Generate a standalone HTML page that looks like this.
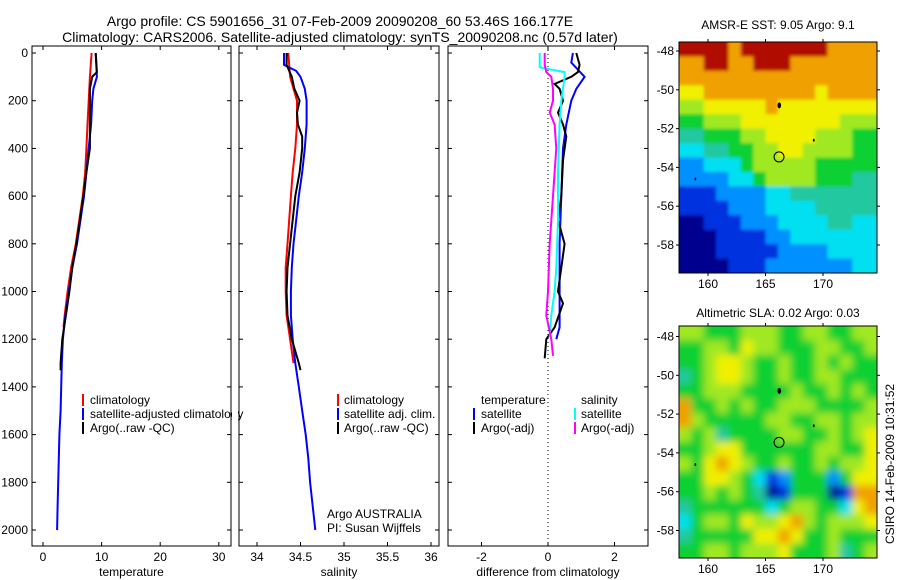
<!DOCTYPE html>
<html><head><meta charset="utf-8">
<style>
body{margin:0;background:#fff;}
svg{display:block;font-family:"Liberation Sans",sans-serif;}
text{fill:#000;}
</style></head>
<body>
<svg id="fig" width="900" height="580" viewBox="0 0 900 580" xmlns="http://www.w3.org/2000/svg">
<defs>
<filter id="blurS" x="-5%" y="-5%" width="110%" height="110%"><feGaussianBlur stdDeviation="1.5"/></filter>
<filter id="blurL" x="-5%" y="-5%" width="110%" height="110%"><feGaussianBlur stdDeviation="4"/></filter>
<clipPath id="clipS"><rect x="679" y="42" width="198" height="231"/></clipPath>
<clipPath id="clipL"><rect x="679" y="326" width="198" height="232"/></clipPath>
</defs>
<rect width="900" height="580" fill="#fff"/>
<text x="340" y="26" font-size="14" text-anchor="middle">Argo profile: CS 5901656_31 07-Feb-2009 20090208_60 53.46S 166.177E</text>
<text x="340" y="42" font-size="14" text-anchor="middle">Climatology: CARS2006. Satellite-adjusted climatology: synTS_20090208.nc (0.57d later)</text>
<g id="plots"></g>
<text x="778" y="29" font-size="12" text-anchor="middle">AMSR-E SST: 9.05 Argo: 9.1</text>
<text x="778" y="317" font-size="12" text-anchor="middle">Altimetric SLA: 0.02 Argo: 0.03</text>
<text transform="translate(894,464) rotate(-90)" font-size="12" text-anchor="middle">CSIRO 14-Feb-2009 10:31:52</text>
<g font-size="12">
<rect x="82" y="394" width="2" height="12" fill="#f00"/><text x="90" y="404">climatology</text>
<rect x="82" y="408" width="2" height="12" fill="#00f"/><text x="90" y="418">satellite-adjusted climatology</text>
<rect x="82" y="422" width="2" height="12" fill="#000"/><text x="90" y="432">Argo(..raw -QC)</text>
</g>
<rect x="232" y="394" width="6" height="40" fill="#fff"/>
<g font-size="12">
<rect x="337" y="394" width="2" height="12" fill="#f00"/><text x="344" y="404">climatology</text>
<rect x="337" y="408" width="2" height="12" fill="#00f"/><text x="344" y="418">satellite adj. clim.</text>
<rect x="337" y="422" width="2" height="12" fill="#000"/><text x="344" y="432">Argo(..raw -QC)</text>
</g>
<g font-size="12">
<text x="327" y="518">Argo AUSTRALIA</text><text x="327" y="532">PI: Susan Wijffels</text>
</g>
<g font-size="12">
<text x="481" y="404">temperature</text>
<rect x="473" y="408" width="2" height="12" fill="#00f"/><text x="481" y="418">satellite</text>
<rect x="473" y="422" width="2" height="12" fill="#000"/><text x="481" y="432">Argo(-adj)</text>
<text x="581" y="404">salinity</text>
<rect x="574" y="408" width="2" height="12" fill="#0ff"/><text x="581" y="418">satellite</text>
<rect x="574" y="422" width="2" height="12" fill="#f0f"/><text x="581" y="432">Argo(-adj)</text>
</g>
</svg>
<script>
// ---- profile data ----
const tClimD=[0,100,200,300,400,500,600,700,800,900,1000,1100,1150];
const tClimV=[8.3,8.0,7.8,7.6,7.4,7.2,6.8,6.2,5.6,4.8,4.2,3.7,3.5];
const tSatD=[0,100,150,200,300,400,500,600,700,800,900,1000,1100,1200,1300,1400,1500,1600,1700,1800,1900,2000];
const tSatV=[9.0,9.2,8.6,8.4,8.2,7.8,7.4,7.0,6.4,5.8,5.0,4.4,3.8,3.4,3.2,3.1,3.0,2.8,2.7,2.6,2.5,2.4];
const tArgD=[0,80,100,150,200,300,400,500,600,700,800,900,1000,1100,1200,1300,1330];
const tArgV=[9.0,9.2,8.4,8.0,8.0,8.0,8.0,7.4,6.9,6.3,5.7,5.0,4.5,3.9,3.3,3.0,3.0];
const sClimD=[0,100,200,300,400,500,600,700,800,900,1000,1100,1200,1300];
const sClimV=[34.36,34.38,34.46,34.46,34.44,34.41,34.39,34.37,34.35,34.33,34.33,34.34,34.38,34.42];
const sSatD=[0,50,75,100,150,200,300,400,500,600,700,800,900,1000,1100,1200,1300,1400,1500,1600,1700,1800,1900,2000];
const sSatV=[34.31,34.31,34.45,34.5,34.55,34.57,34.57,34.55,34.52,34.48,34.45,34.42,34.4,34.39,34.39,34.41,34.44,34.48,34.52,34.56,34.59,34.61,34.64,34.67];
const sArgD=[0,50,100,150,200,250,300,350,400,500,600,700,800,900,1000,1100,1200,1300,1330];
const sArgV=[34.34,34.34,34.4,34.43,34.49,34.46,34.47,34.52,34.52,34.49,34.44,34.41,34.38,34.35,34.34,34.35,34.4,34.48,34.5];
const dTSatD=[0,40,100,150,200,300,400,600,800,1000,1150,1200];
const dTSatV=[0.75,0.7,1.1,0.85,0.7,0.55,0.45,0.4,0.35,0.35,0.35,0.25];
const dTArgD=[0,50,80,100,130,150,200,250,300,350,450,600,700,800,900,1000,1050,1150,1200,1280];
const dTArgV=[0.85,0.95,0.9,0.7,0.2,0.35,0.45,0.3,0.45,0.55,0.45,0.4,0.3,0.5,0.4,0.3,0.45,0.2,-0.05,-0.1];
const dSSatD=[0,60,80,100,200,300,500,700,900,1000,1100,1190];
const dSSatV=[-0.25,-0.25,0.5,0.5,0.4,0.35,0.3,0.3,0.25,0.2,0.1,0.05];
const dSArgD=[0,50,80,100,150,200,250,300,400,500,600,800,1000,1100,1200,1270];
const dSArgV=[-0.1,-0.1,-0.05,0.1,0.15,0.15,0.05,0.2,0.25,0.2,0.15,0.05,0.0,-0.05,0.1,0.15];
const depthTicks=[0,200,400,600,800,1000,1200,1400,1600,1800,2000];
const tTicks=[0,10,20,30];
const sTicks=[34,34.5,35,35.5,36];
const sTickLabels=["34","34.5","35","35.5","36"];
const dTicks=[-2,0,2];
const latTicks=[-48,-50,-52,-54,-56,-58];
const lonTicks=[160,165,170];
// ---- map grids (jet index 0-9), rows north->south ----
const sstGrid=["9999899999998888","8899889998888888","8888888888888888","7788888888878888","6677777877777777","5566677777777666","4455566777766655","3344556677666655","2233356666655555","2222335666655544","1112222334444444","1111222333344444","0011122233334433","0001111223333333","0001111122223333","0000111222222233"];
const slaGrid=["6655566655665566","5566576655566556","5567765565565655","4567765565566555","5566655556556565","8556565566655556","8655555665566566","6564555566556567","5567755555566557","6578765565565667","5577653125552577","5565654015550188","4555555356655378","3566576678656667","4555557787556555","5566566675556456"];
const jet=["#00008f","#0030e0","#0090ff","#00e0f0","#20c8a0","#10d030","#a0e820","#f0f000","#f0a000","#b01000"];

const NS="http://www.w3.org/2000/svg";
const root=document.getElementById('plots');
function mk(tag,attrs,parent){const e=document.createElementNS(NS,tag);for(const k in attrs)e.setAttribute(k,attrs[k]);(parent||root).appendChild(e);return e;}
const BOX_T=46,BOX_B=546;
const yD=d=>53+d*0.2385;
function panel(name,x0,x1,xf,ticks,labels,xlabel,yLabels){
  const g=mk('g',{});
  
  
  mk('rect',{x:x0,y:BOX_T,width:x1-x0,height:BOX_B-BOX_T,fill:'none',stroke:'#000','stroke-width':1},g);
  ticks.forEach((t,i)=>{const x=xf(t);
    mk('line',{x1:x,x2:x,y1:BOX_B,y2:BOX_B-4,stroke:'#000'},g);
    mk('line',{x1:x,x2:x,y1:BOX_T,y2:BOX_T+4,stroke:'#000'},g);
    const tx=mk('text',{x:x,y:BOX_B+15,'font-size':12,'text-anchor':'middle'},g);tx.textContent=labels[i];});
  depthTicks.forEach(d=>{const y=yD(d);
    mk('line',{x1:x0,x2:x0+4,y1:y,y2:y,stroke:'#000'},g);
    mk('line',{x1:x1,x2:x1-4,y1:y,y2:y,stroke:'#000'},g);
    if(yLabels){const tx=mk('text',{x:x0-4,y:y+4,'font-size':12,'text-anchor':'end'},g);tx.textContent=d;}});
  const xl=mk('text',{x:(x0+x1)/2,y:576,'font-size':12,'text-anchor':'middle'},g);xl.textContent=xlabel;
  return g;
}
function line(g,name,D,V,xf,color){
  const p=mk('polyline',{points:D.map((d,i)=>xf(V[i]).toFixed(1)+','+yD(d).toFixed(1)).join(' '),fill:'none',stroke:color,'stroke-width':2},g);
  
  
}
const xT=t=>43+5.86*t, xS=s=>257+(s-34)*87, xDf=d=>548+d*33.25;
const g1=panel('temperature-panel',32,231,xT,tTicks,tTicks.map(String),'temperature',true);
line(g1,'temp-climatology-line',tClimD,tClimV,xT,'#f00');
line(g1,'temp-satellite-line',tSatD,tSatV,xT,'#00f');
line(g1,'temp-argo-line',tArgD,tArgV,xT,'#000');
const g2=panel('salinity-panel',239,439,xS,sTicks,sTickLabels,'salinity',false);
line(g2,'sal-climatology-line',sClimD,sClimV,xS,'#f00');
line(g2,'sal-satellite-line',sSatD,sSatV,xS,'#00f');
line(g2,'sal-argo-line',sArgD,sArgV,xS,'#000');
const g3=panel('difference-panel',448,648,xDf,dTicks,dTicks.map(String),'difference from climatology',false);
const zl=mk('line',{x1:xDf(0),x2:xDf(0),y1:BOX_T,y2:BOX_B,stroke:'#000','stroke-dasharray':'1,3'},g3);


line(g3,'diff-temp-satellite-line',dTSatD,dTSatV,xDf,'#00f');
line(g3,'diff-temp-argo-line',dTArgD,dTArgV,xDf,'#000');
line(g3,'diff-sal-satellite-line',dSSatD,dSSatV,xDf,'#0ff');
line(g3,'diff-sal-argo-line',dSArgD,dSArgV,xDf,'#f0f');

function map(name,grid,top,bottom,latAt48,clip,filt){
  const x0=679,x1=877,g=mk('g',{});
  
  
  const cg=mk('g',{'clip-path':'url(#'+clip+')'},g);
  const fg=mk('g',{filter:'url(#'+filt+')'},cg);
  const rows=grid.length,cols=grid[0].length,cw=(x1-x0)/cols,ch=(bottom-top)/rows;
  grid.forEach((r,ri)=>{for(let c=0;c<cols;c++){
    let x=x0+c*cw,y=top+ri*ch,w=cw+0.6,h=ch+0.6;
    if(c===0){x-=10;w+=10;} if(c===cols-1){w+=10;}
    if(ri===0){y-=10;h+=10;} if(ri===rows-1){h+=10;}
    const cell=mk('rect',{x:x.toFixed(2),y:y.toFixed(2),width:w.toFixed(2),height:h.toFixed(2),fill:jet[+r[c]]},fg);
    
    }});
  mk('rect',{x:x0,y:top,width:x1-x0,height:bottom-top,fill:'none',stroke:'#000'},g);
  const yl=l=>latAt48+(-48-l)*19.4, xl=l=>708+(l-160)*11.5;
  latTicks.forEach(l=>{const y=yl(l);mk('line',{x1:x0-3,x2:x0,y1:y,y2:y,stroke:'#000'},g);mk('line',{x1:x1,x2:x1+3,y1:y,y2:y,stroke:'#000'},g);
    const t=mk('text',{x:x0-5,y:y+4,'font-size':12,'text-anchor':'end'},g);t.textContent=l;});
  lonTicks.forEach(l=>{const x=xl(l);mk('line',{x1:x,x2:x,y1:bottom,y2:bottom+3,stroke:'#000'},g);mk('line',{x1:x,x2:x,y1:top-3,y2:top,stroke:'#000'},g);
    const t=mk('text',{x:x,y:bottom+15,'font-size':12,'text-anchor':'middle'},g);t.textContent=l;});
  const c=mk('circle',{cx:xl(166.177),cy:yl(-53.46),r:5,fill:'none',stroke:'#000'},g);
  
  
  [[166.2,-50.8,3],[169.2,-52.6,1.5],[158.9,-54.6,1.5]].forEach(p=>mk('ellipse',{cx:xl(p[0]),cy:yl(p[1]),rx:p[2]*0.6,ry:p[2],fill:'#000'},g));
}
map('sst-map',sstGrid,42,273,51,'clipS','blurS');
map('sla-map',slaGrid,326,558,336.5,'clipL','blurL');
</script>
</body></html>
